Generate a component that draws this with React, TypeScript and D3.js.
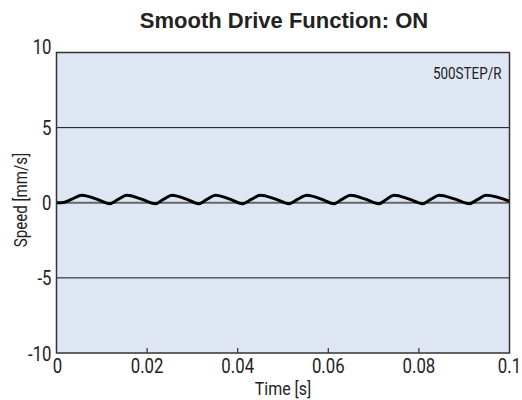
import React from "react";
import * as d3 from "d3";

const title = "Smooth Drive Function: ON";
const xLabel = "Time [s]";
const yLabel = "Speed [mm/s]";
const annotation = "500STEP/R";
const xTicks = [0, 0.02, 0.04, 0.06, 0.08, 0.1];
const xTickLabels = ["0", "0.02", "0.04", "0.06", "0.08", "0.1"];
const yTicks = [-10, -5, 0, 5, 10];
const yTickLabels = ["-10", "-5", "0", "5", "10"];

const times = [
  0, 0.0012, 0.0034, 0.0056, 0.0087, 0.0117,
  0.0136, 0.0155, 0.0186, 0.0218,
  0.0236, 0.0255, 0.0285, 0.0314,
  0.0332, 0.0351, 0.0381, 0.041,
  0.043, 0.045, 0.0482, 0.0513,
  0.0532, 0.0553, 0.0583, 0.0612,
  0.063, 0.0649, 0.068, 0.0712,
  0.0728, 0.0745, 0.0777, 0.0808,
  0.0826, 0.0845, 0.0878, 0.0911,
  0.093, 0.0948, 0.1,
];
const speeds = [
  0, 0.0, 0.24, 0.5, 0.26, -0.06,
  0.22, 0.5, 0.26, -0.06,
  0.22, 0.5, 0.26, -0.06,
  0.22, 0.5, 0.26, -0.06,
  0.22, 0.5, 0.26, -0.06,
  0.22, 0.5, 0.26, -0.06,
  0.22, 0.5, 0.26, -0.06,
  0.22, 0.5, 0.26, -0.06,
  0.22, 0.5, 0.26, -0.06,
  0.22, 0.5, 0.1,
];

const W = 522;
const H = 400;
const M = { left: 56.5, right: 509.5, top: 52.5, bottom: 353 };
const FONT = "Roboto, 'Liberation Sans', sans-serif";
const SX = 0.84;

function T({
  x,
  y,
  size,
  anchor = "middle",
  rotate = 0,
  children,
}: {
  x: number;
  y: number;
  size: number;
  anchor?: "start" | "middle" | "end";
  rotate?: number;
  children: React.ReactNode;
}) {
  return (
    <text
      transform={`translate(${x},${y}) rotate(${rotate}) scale(${SX},1)`}
      textAnchor={anchor}
      fontFamily={FONT}
      fontSize={size}
      fill="#222"
    >
      {children}
    </text>
  );
}

export default function App() {
  const x = d3.scaleLinear().domain([0, 0.1]).range([M.left, M.right]);
  const y = d3.scaleLinear().domain([-10, 10]).range([M.bottom, M.top]);
  const pts = times.map((t, i) => [t, speeds[i]] as [number, number]);
  const line = d3
    .line<[number, number]>()
    .x((d) => x(d[0]))
    .y((d) => y(d[1]))
    .curve(d3.curveMonotoneX);

  return (
    <svg width={W} height={H} style={{ position: "absolute", left: 0, top: 0 }}>
      <rect x={0} y={0} width={W} height={H} fill="#fff" />
      <text
        x={284}
        y={28}
        textAnchor="middle"
        fontFamily="'Liberation Sans', Arial, sans-serif"
        fontWeight="bold"
        fontSize={22}
        fill="#222"
      >
        {title}
      </text>
      <rect
        x={M.left}
        y={M.top}
        width={M.right - M.left}
        height={M.bottom - M.top}
        fill="#dfe6f3"
      />
      {yTicks
        .filter((v) => v !== -10 && v !== 10)
        .map((v) => (
          <line
            key={"g" + v}
            x1={M.left}
            x2={M.right}
            y1={y(v)}
            y2={y(v)}
            stroke={v === 0 ? "#666" : "#111"}
            strokeWidth={v === 0 ? 2 : 1}
          />
        ))}
      {xTicks
        .filter((v) => v !== 0 && v !== 0.1)
        .map((v) => (
          <line
            key={"xt" + v}
            x1={x(v)}
            x2={x(v)}
            y1={M.bottom}
            y2={M.bottom - 5}
            stroke="#333"
            strokeWidth={1.2}
          />
        ))}
      <path d={line(pts) || ""} fill="none" stroke="#000" strokeWidth={3} strokeLinejoin="round" />
      <rect
        x={M.left}
        y={M.top}
        width={M.right - M.left}
        height={M.bottom - M.top}
        fill="none"
        stroke="#333"
        strokeWidth={1.5}
      />
      {yTicks.map((v, i) => (
        <T
          key={"yl" + v}
          x={M.left - 5}
          y={y(v) + (v === 10 ? 1 : v === -10 ? 8 : 7)}
          size={20}
          anchor="end"
        >
          {yTickLabels[i]}
        </T>
      ))}
      {xTicks.map((v, i) => (
        <T key={"xl" + v} x={x(v) + (i === 0 ? 1 : 0)} y={M.bottom + 20} size={20}>
          {xTickLabels[i]}
        </T>
      ))}
      <T x={283} y={395} size={19}>
        {xLabel}
      </T>
      <T x={27} y={200} size={18} rotate={-90}>
        {yLabel}
      </T>
      <T x={M.right - 8} y={79} size={16} anchor="end">
        {annotation}
      </T>
    </svg>
  );
}
